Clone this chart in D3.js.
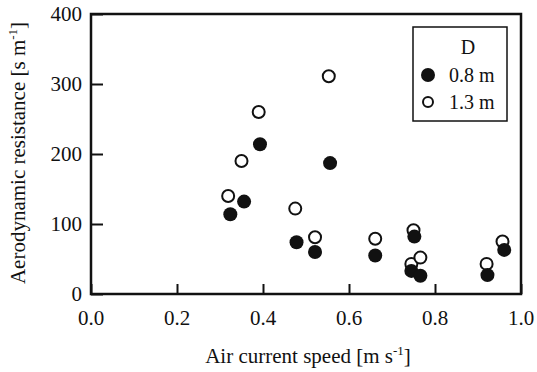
<!DOCTYPE html>
<html>
<head>
<meta charset="utf-8">
<script src="https://cdn.jsdelivr.net/npm/d3@7"></script>
<style>
  body { margin: 0; background: #fff; }
  text { font-family: "Liberation Serif", "Times New Roman", serif; fill: #111; }
</style>
</head>
<body>
<svg id="chart" width="537" height="372"></svg>
<script>
  // air current speed [m/s] and aerodynamic resistance [s/m]
  var speed08 = [0.324, 0.356, 0.393, 0.478, 0.521, 0.556, 0.661, 0.745, 0.752, 0.766, 0.922, 0.961];
  var resist08 = [114, 132, 214, 74, 60, 187, 55, 33, 82, 26, 27, 63];
  var speed13 = [0.319, 0.35, 0.39, 0.475, 0.521, 0.553, 0.661, 0.745, 0.75, 0.766, 0.92, 0.957];
  var resist13 = [140, 190, 260, 122, 81, 311, 79, 43, 91, 52, 43, 75];
  var xTicks = [0, 0.2, 0.4, 0.6, 0.8, 1.0];
  var yTicks = [0, 100, 200, 300, 400];
  var legendLabels = ['0.8 m', '1.3 m'];

  var svg = d3.select('#chart'),
      plotL = 91, plotR = 521, plotT = 14, plotB = 294;

  var x = d3.scaleLinear().domain([0, 1]).range([plotL, plotR]);
  var y = d3.scaleLinear().domain([0, 400]).range([plotB, plotT]);

  // ticks point inward
  var xAxis = svg.append('g')
      .attr('transform', 'translate(0,' + plotB + ')')
      .call(d3.axisTop(x).tickValues(xTicks).tickSize(10).tickFormat(''));
  var yAxis = svg.append('g')
      .attr('transform', 'translate(' + plotL + ',0)')
      .call(d3.axisRight(y).tickValues(yTicks).tickSize(12).tickFormat(''));
  [xAxis, yAxis].forEach(function (ax) {
      ax.select('.domain').remove();
      ax.selectAll('line').attr('stroke', '#111').attr('stroke-width', 2);
  });

  svg.append('rect')
      .attr('x', plotL).attr('y', plotT)
      .attr('width', plotR - plotL).attr('height', plotB - plotT)
      .attr('fill', 'none').attr('stroke', '#111').attr('stroke-width', 2.5);

  svg.append('g').selectAll('text')
      .data(xTicks).enter().append('text')
      .attr('x', function (d) { return x(d); })
      .attr('y', 325)
      .attr('text-anchor', 'middle')
      .style('font-size', '21px')
      .text(function (d) { return d.toFixed(1); });

  svg.append('g').selectAll('text')
      .data(yTicks).enter().append('text')
      .attr('x', 82)
      .attr('y', function (d) { return y(d) + 7; })
      .attr('text-anchor', 'end')
      .style('font-size', '21px')
      .text(function (d) { return d; });

  var xt = svg.append('text')
      .attr('x', 308).attr('y', 363)
      .attr('text-anchor', 'middle')
      .style('font-size', '21px');
  xt.append('tspan').text('Air current speed [m s');
  xt.append('tspan').attr('dy', -8).style('font-size', '13px').text('-1');
  xt.append('tspan').attr('dy', 8).text(']');

  var yt = svg.append('text')
      .attr('transform', 'translate(25,153) rotate(-90)')
      .attr('text-anchor', 'middle')
      .style('font-size', '21px');
  yt.append('tspan').text('Aerodynamic resistance [s m');
  yt.append('tspan').attr('dy', -8).style('font-size', '13px').text('-1');
  yt.append('tspan').attr('dy', 8).text(']');

  var pts08 = speed08.map(function (s, i) { return [s, resist08[i]]; });
  var pts13 = speed13.map(function (s, i) { return [s, resist13[i]]; });

  svg.append('g').selectAll('circle')
      .data(pts13).enter().append('circle')
      .attr('cx', function (d) { return x(d[0]); })
      .attr('cy', function (d) { return y(d[1]); })
      .attr('r', 6)
      .attr('fill', '#fff').attr('stroke', '#111').attr('stroke-width', 2);

  svg.append('g').selectAll('circle')
      .data(pts08).enter().append('circle')
      .attr('cx', function (d) { return x(d[0]); })
      .attr('cy', function (d) { return y(d[1]); })
      .attr('r', 7)
      .attr('fill', '#111');

  // legend
  var lg = svg.append('g');
  lg.append('rect')
      .attr('x', 413).attr('y', 27).attr('width', 94).attr('height', 94)
      .attr('fill', '#fff').attr('stroke', '#111').attr('stroke-width', 1.5);
  lg.append('text')
      .attr('x', 468).attr('y', 54)
      .attr('text-anchor', 'middle')
      .style('font-size', '20px')
      .text('D');
  lg.selectAll('.item')
      .data(legendLabels).enter().append('g')
      .attr('class', 'item')
      .attr('transform', function (d, i) { return 'translate(0,' + (75 + i * 27) + ')'; })
      .each(function (d, i) {
          var g = d3.select(this);
          if (i === 0) {
              g.append('circle').attr('cx', 428).attr('r', 7).attr('fill', '#111');
          } else {
              g.append('circle').attr('cx', 428).attr('r', 5)
                  .attr('fill', '#fff').attr('stroke', '#111').attr('stroke-width', 2);
          }
          g.append('text')
              .attr('x', 449).attr('y', 7)
              .style('font-size', '20px')
              .text(d);
      });
</script>
</body>
</html>
